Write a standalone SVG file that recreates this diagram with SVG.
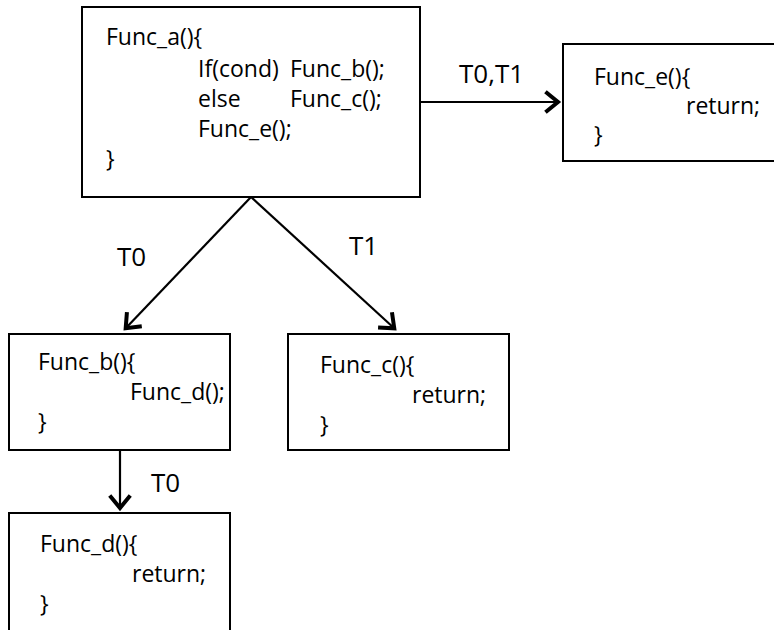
<svg xmlns="http://www.w3.org/2000/svg" width="774" height="630" viewBox="0 0 774 630">
<style>
.box{fill:#fff;stroke:#000;stroke-width:2}
.t{font-family:"Open Sans","Liberation Sans",sans-serif;font-size:23px;fill:#000}
.lbl{font-family:"Open Sans","Liberation Sans",sans-serif;font-size:26px;fill:#000}
.edge{fill:none;stroke:#000;stroke-width:2.2}
</style>
<defs>
<marker id="arr" markerUnits="userSpaceOnUse" markerWidth="30" markerHeight="30" viewBox="-16 -15 20 30" refX="1" refY="0" orient="auto">
<path d="M -11 -9 L 0 0 L -11 9" fill="none" stroke="#000" stroke-width="4" stroke-linejoin="miter" stroke-linecap="square"/>
</marker>
</defs>
<rect width="774" height="630" fill="#fff"/>
<g id="connectors">
<line class="edge" x1="420" y1="102" x2="559" y2="102" marker-end="url(#arr)"/>
<line class="edge" x1="251" y1="197" x2="125" y2="329" marker-end="url(#arr)"/>
<line class="edge" x1="251" y1="197" x2="395" y2="329" marker-end="url(#arr)"/>
<line class="edge" x1="120" y1="450" x2="120" y2="509" marker-end="url(#arr)"/>
<text class="lbl" x="459" y="83">T0,T1</text>
<text class="lbl" x="117" y="266">T0</text>
<text class="lbl" x="349" y="255">T1</text>
<text class="lbl" x="151" y="492">T0</text>
</g>
<g id="func_a">
<rect class="box" x="82" y="7" width="338" height="190"/>
<text class="t" x="106" y="45">Func_a(){</text>
<text class="t" x="198" y="77">If(cond)</text>
<text class="t" x="290" y="77">Func_b();</text>
<text class="t" x="198" y="107">else</text>
<text class="t" x="290" y="107">Func_c();</text>
<text class="t" x="198" y="137">Func_e();</text>
<text class="t" x="106" y="167">}</text>
</g>
<g id="func_e">
<rect class="box" x="563" y="44" width="222" height="117"/>
<text class="t" x="594" y="85">Func_e(){</text>
<text class="t" x="686" y="114">return;</text>
<text class="t" x="594" y="143">}</text>
</g>
<g id="func_b">
<rect class="box" x="9" y="334" width="221" height="116"/>
<text class="t" x="38" y="370">Func_b(){</text>
<text class="t" x="130" y="400">Func_d();</text>
<text class="t" x="38" y="430">}</text>
</g>
<g id="func_c">
<rect class="box" x="288" y="334" width="221" height="116"/>
<text class="t" x="320" y="373">Func_c(){</text>
<text class="t" x="412" y="403">return;</text>
<text class="t" x="320" y="433">}</text>
</g>
<g id="func_d">
<rect class="box" x="9" y="513" width="221" height="140"/>
<text class="t" x="40" y="552">Func_d(){</text>
<text class="t" x="132" y="582">return;</text>
<text class="t" x="40" y="612">}</text>
</g>
</svg>
